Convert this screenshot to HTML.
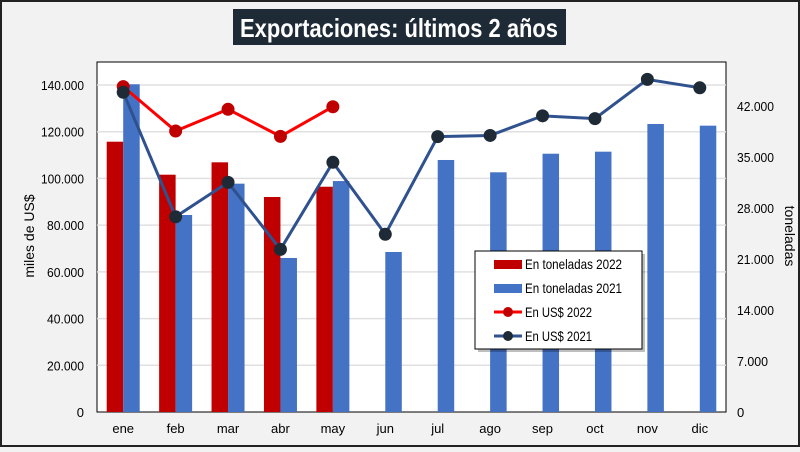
<!DOCTYPE html>
<html><head><meta charset="utf-8"><style>
body{margin:0;width:800px;height:447px;overflow:hidden;background:#f2f2f2;font-family:"Liberation Sans",sans-serif}
</style></head><body>
<svg id="c" width="800" height="447" xmlns="http://www.w3.org/2000/svg">
<rect x="1" y="1" width="798" height="445" fill="#f2f2f2" stroke="#222" stroke-width="2"/>
<rect x="233" y="9" width="333" height="36" fill="#1e2a36"/>
<text x="240" y="37" textLength="318" lengthAdjust="spacingAndGlyphs" fill="#fff" font-size="26" font-weight="bold">Exportaciones: últimos 2 años</text>
<rect x="97" y="62" width="629" height="350" fill="#fff" stroke="#000" stroke-width="1"/>
<g id="grid"></g><g id="bars"></g><g id="lines"></g><g id="axes"></g>
<text transform="translate(34,236) rotate(-90)" text-anchor="middle" font-size="14">miles de US$</text>
<text transform="translate(785,236) rotate(90)" text-anchor="middle" font-size="14">toneladas</text>
<g font-size="14">
<rect x="478" y="254" width="167" height="98" fill="#000" opacity="0.25"/>
<rect x="475" y="251" width="167" height="98" fill="#fff" stroke="#000" stroke-width="1"/>
<rect x="494" y="260" width="28" height="9" fill="#c00000"/>
<text x="525" y="269" textLength="97" lengthAdjust="spacingAndGlyphs">En toneladas 2022</text>
<rect x="494" y="284" width="28" height="9" fill="#4472c4"/>
<text x="525" y="293" textLength="97" lengthAdjust="spacingAndGlyphs">En toneladas 2021</text>
<line x1="494" y1="312" x2="522" y2="312" stroke="#ff0000" stroke-width="3"/><circle cx="508" cy="312" r="5" fill="#c00000"/>
<text x="525" y="317" textLength="67" lengthAdjust="spacingAndGlyphs">En US$ 2022</text>
<line x1="494" y1="336" x2="522" y2="336" stroke="#2f528f" stroke-width="3"/><circle cx="508" cy="336" r="5" fill="#1e2a36"/>
<text x="525" y="341" textLength="67" lengthAdjust="spacingAndGlyphs">En US$ 2021</text>
</g>
</svg>
<script>
const months=["ene","feb","mar","abr","may","jun","jul","ago","sep","oct","nov","dic"];
const ton2022=[37100,32570,34270,29510,30920];
const ton2021=[44980,27040,31340,21140,31700,21960,34590,32900,35450,35730,39530,39300];
const usd2022=[139300,120300,129600,118000,130700];
const usd2021=[136900,83600,98300,69600,106900,76100,117900,118400,126800,125600,142400,138800];
const leftTicks=[0,20000,40000,60000,80000,100000,120000,140000];
const rightTicks=[0,7000,14000,21000,28000,35000,42000];
const NS="http://www.w3.org/2000/svg";
const X0=97,X1=726,Y0=412,band=(X1-X0)/12;
const yL=v=>Y0-v*327/140000;
const yR=v=>Y0-v*51/7000;
const cx=i=>X0+band*(i+0.5);
function mk(tag,a,p){const e=document.createElementNS(NS,tag);for(const k in a)e.setAttribute(k,a[k]);p.appendChild(e);return e;}
const grid=document.getElementById("grid"),bars=document.getElementById("bars"),lines=document.getElementById("lines"),axes=document.getElementById("axes");
leftTicks.forEach(t=>{
  if(t>0){const g=mk("line",{x1:X0,x2:X1,y1:yL(t),y2:yL(t),stroke:"#e0e0e0","stroke-width":1.5},grid);
  
  }
  const l=mk("text",{x:84,y:yL(t)+5,"text-anchor":"end","font-size":13},axes);
  l.textContent=t===0?"0":(t/1000)+".000";
  if(t>0){l.setAttribute("textLength",t>=100000?43:37);l.setAttribute("lengthAdjust","spacingAndGlyphs");}
  
  
});
rightTicks.forEach(t=>{
  const l=mk("text",{x:737,y:yR(t)+5,"font-size":13},axes);
  l.textContent=t===0?"0":(t/1000)+".000";
  if(t>0){l.setAttribute("textLength",t>=10000?37:31);l.setAttribute("lengthAdjust","spacingAndGlyphs");}
  
  
});
months.forEach((m,i)=>{
  const l=mk("text",{x:cx(i),y:433,"text-anchor":"middle","font-size":13},axes);l.textContent=m;
  
  
});
const bw=16.5;
ton2022.forEach((v,i)=>{const r=mk("rect",{x:cx(i)-bw,y:yR(v),width:bw,height:Y0-yR(v),fill:"#c00000"},bars);
  
  });
ton2021.forEach((v,i)=>{const r=mk("rect",{x:cx(i),y:yR(v),width:bw,height:Y0-yR(v),fill:"#4472c4"},bars);
  
  });
function series(d,stroke,dot,name){
  const p=mk("polyline",{points:d.map((v,i)=>cx(i)+","+yL(v)).join(" "),fill:"none",stroke:stroke,"stroke-width":3},lines);
  
  
  d.forEach((v,i)=>{const c=mk("circle",{cx:cx(i),cy:yL(v),r:6.5,fill:dot},lines);
    
    });
}
series(usd2022,"#ff0000","#c00000","usd-2022");
series(usd2021,"#2f528f","#1e2a36","usd-2021");
</script>
</body></html>
